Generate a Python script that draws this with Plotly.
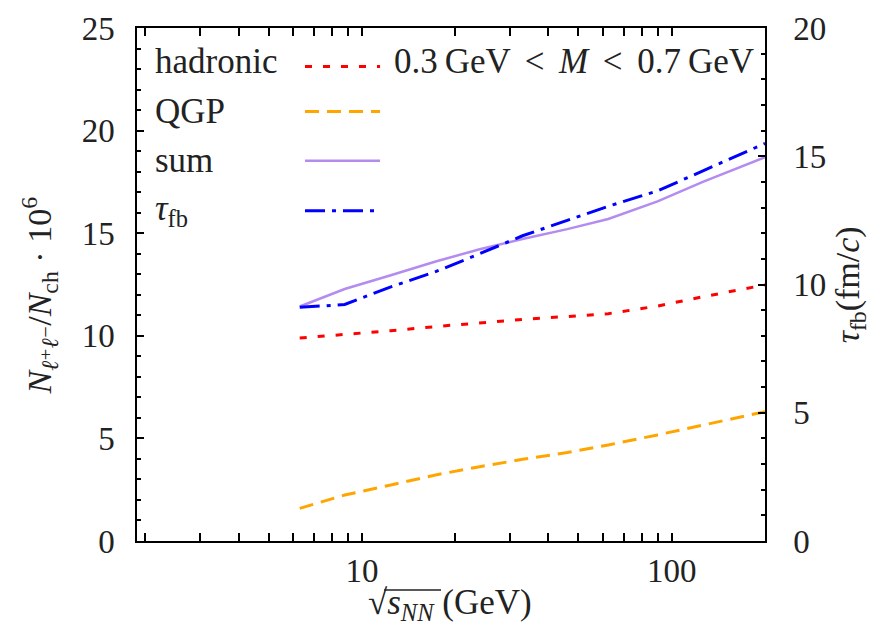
import plotly.graph_objects as go
import numpy as np

# sqrt(s_NN) in GeV
energies = [6.3, 8.8, 12.4, 17.3, 24, 33, 46, 62.4, 90, 126, 200]
hadronic = [9.89, 10.06, 10.25, 10.45, 10.63, 10.80, 10.94, 11.08, 11.45, 11.90, 12.48]
qgp = [1.59, 2.24, 2.73, 3.22, 3.62, 3.98, 4.31, 4.68, 5.17, 5.66, 6.30]
total = [11.43, 12.28, 12.95, 13.62, 14.22, 14.72, 15.20, 15.69, 16.55, 17.50, 18.70]
tau_fb = [9.11, 9.22, 9.91, 10.50, 11.20, 11.90, 12.50, 13.05, 13.65, 14.43, 15.50]

legend_labels = ["hadronic", "QGP", "sum", "<i>τ</i><sub>fb</sub>"]
x_ticks = [10, 100]
x_minor = [2, 3, 4, 5, 6, 7, 8, 9, 20, 30, 40, 50, 60, 70, 80, 90, 200]

FONT = "'Liberation Serif', 'Times New Roman', 'DejaVu Serif', serif"
TXT = "#222222"
RED = "#FF0000"
ORANGE = "#FFA500"
PURPLE = "#B48CF0"
BLUE = "#0000FF"

styles = [
    dict(color=RED, width=3, dash="7px,11px"),
    dict(color=ORANGE, width=3, dash="14px,8px"),
    dict(color=PURPLE, width=2.5, dash="solid"),
    dict(color=BLUE, width=3, dash="20px,7px,4px,7px"),
]

fig = go.Figure()
fig.add_trace(go.Scatter(x=energies, y=hadronic, mode="lines", line=styles[0], showlegend=False))
fig.add_trace(go.Scatter(x=energies, y=qgp, mode="lines", line=styles[1], showlegend=False))
fig.add_trace(go.Scatter(x=energies, y=total, mode="lines", line=styles[2], showlegend=False))
fig.add_trace(go.Scatter(x=energies, y=tau_fb, mode="lines", line=styles[3], showlegend=False, yaxis="y2"))

# Custom legend (text left, sample right)
row_y = [0.935, 0.837, 0.741, 0.644]
sample_dy = [-0.01, 0.0, 0.0, 0.0]
for lab, yy, dy, st in zip(legend_labels, row_y, sample_dy, styles):
    fig.add_annotation(x=0.026, y=yy, xref="paper", yref="paper", text=lab, showarrow=False,
                       xanchor="left", yanchor="middle", font=dict(family=FONT, size=35, color=TXT))
    fig.add_shape(type="line", xref="paper", yref="paper", x0=0.2675, x1=0.387, y0=yy + dy, y1=yy + dy,
                  line=st)

fig.add_annotation(x=0.986, y=0.935, xref="paper", yref="paper",
                   text="0.3\u2009GeV \u2006&lt;\u2006 <i>M</i> \u2006&lt;\u2006 0.7\u2009GeV", showarrow=False,
                   xanchor="right", yanchor="middle", font=dict(family=FONT, size=35, color=TXT))

# Axis titles
fig.add_annotation(x=-0.155, y=0.478, xref="paper", yref="paper", textangle=-90, showarrow=False,
                   xanchor="center", yanchor="middle",
                   text="<i>N</i><sub><i>ℓ</i>⁺<i>ℓ</i>⁻</sub>/<i>N</i><sub>ch</sub> · 10<sup>6</sup>",
                   font=dict(family=FONT, size=34, color=TXT))
fig.add_annotation(x=1.135, y=0.5, xref="paper", yref="paper", textangle=-90, showarrow=False,
                   xanchor="center", yanchor="middle",
                   text="<i>τ</i><sub>fb</sub>(fm/<i>c</i>)",
                   font=dict(family=FONT, size=34, color=TXT))
fig.add_annotation(x=0.499, y=-0.124, xref="paper", yref="paper", showarrow=False,
                   xanchor="center", yanchor="middle",
                   text="√<i>s<sub>NN</sub></i> (GeV)",
                   font=dict(family=FONT, size=35, color=TXT))
# overline of the square root
fig.add_shape(type="line", xref="paper", yref="paper", x0=(384 - 137) / 628, x1=(441 - 137) / 628,
              y0=(541 - 590) / 512.5, y1=(541 - 590) / 512.5, line=dict(color=TXT, width=1.5))

axis_common = dict(showline=True, linecolor="black", linewidth=1.5, ticks="inside",
                   tickcolor="black", tickwidth=1.5, showgrid=False, zeroline=False,
                   tickfont=dict(family=FONT, size=33, color=TXT))

fig.update_layout(
    width=887, height=630,
    margin=dict(l=137, r=122, t=28, b=89),
    paper_bgcolor="white", plot_bgcolor="white",
    font=dict(family=FONT, color=TXT),
    xaxis=dict(type="log", range=[np.log10(1.88), np.log10(200)], tickvals=x_ticks,
               ticktext=[str(v) for v in x_ticks], ticklen=8, mirror="allticks",
               ticklabelstandoff=0,
               minor=dict(tickvals=x_minor, ticklen=5, ticks="inside", tickcolor="black", tickwidth=1.5),
               **axis_common),
    yaxis=dict(range=[0, 25], tickvals=[0, 5, 10, 15, 20, 25], ticklen=7, mirror=False,
               ticklabelstandoff=14,
               minor=dict(dtick=1, ticklen=4, ticks="inside", tickcolor="black", tickwidth=1.5),
               **axis_common),
    yaxis2=dict(range=[0, 20], tickvals=[0, 5, 10, 15, 20], ticklen=7, overlaying="y", side="right",
                ticklabelstandoff=20,
                minor=dict(dtick=1, ticklen=4, ticks="inside", tickcolor="black", tickwidth=1.5),
                **axis_common),
)

fig.write_html("out.html")
